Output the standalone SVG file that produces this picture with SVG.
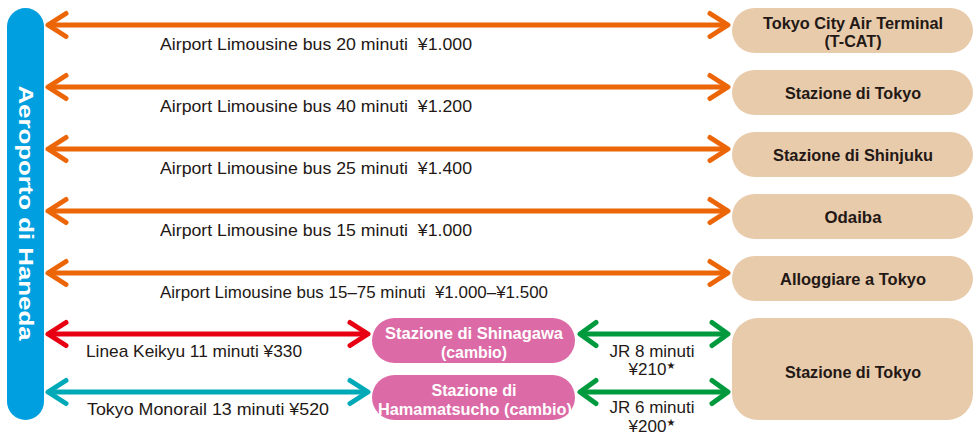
<svg xmlns="http://www.w3.org/2000/svg" width="973" height="436" viewBox="0 0 973 436">
<style>
.lbl{font-family:"Liberation Sans",Arial,sans-serif;font-size:17px;fill:#231815}
.bx{font-family:"Liberation Sans Narrow","Liberation Sans",Arial,sans-serif;font-weight:bold;font-size:16.5px;fill:#231815;text-anchor:middle}
.pk{font-family:"Liberation Sans Narrow","Liberation Sans",Arial,sans-serif;font-weight:bold;font-size:16.5px;fill:#ffffff;text-anchor:middle}
.beige{fill:#e8cbab}
.pink{fill:#dc6aa6}
.ln{fill:none;stroke-width:5}
.star{font-family:"DejaVu Sans",sans-serif;font-size:10px}
</style>
<defs>
<marker id="mo" markerUnits="userSpaceOnUse" viewBox="-24 -16 30 32" markerWidth="30" markerHeight="32" refX="-2" refY="0" orient="auto-start-reverse">
<path d="M-18,-11.5 L0,0 L-18,11.5" fill="none" stroke="#ec6608" stroke-width="5" stroke-linecap="round" stroke-linejoin="round"/>
</marker>
<marker id="mr" markerUnits="userSpaceOnUse" viewBox="-24 -16 30 32" markerWidth="30" markerHeight="32" refX="-2" refY="0" orient="auto-start-reverse">
<path d="M-18,-11.5 L0,0 L-18,11.5" fill="none" stroke="#e60012" stroke-width="5" stroke-linecap="round" stroke-linejoin="round"/>
</marker>
<marker id="mt" markerUnits="userSpaceOnUse" viewBox="-24 -16 30 32" markerWidth="30" markerHeight="32" refX="-2" refY="0" orient="auto-start-reverse">
<path d="M-18,-11.5 L0,0 L-18,11.5" fill="none" stroke="#00a9b7" stroke-width="5" stroke-linecap="round" stroke-linejoin="round"/>
</marker>
<marker id="mg" markerUnits="userSpaceOnUse" viewBox="-24 -16 30 32" markerWidth="30" markerHeight="32" refX="-2" refY="0" orient="auto-start-reverse">
<path d="M-16,-11.5 L0,0 L-16,11.5" fill="none" stroke="#009a3e" stroke-width="5" stroke-linecap="round" stroke-linejoin="round"/>
</marker>
</defs>

<g id="haneda">
<rect x="7" y="8" width="37" height="412" rx="18.5" fill="#009fdf"/>
<text transform="translate(18.5,213) rotate(90)" font-family="'Liberation Sans',Arial,sans-serif" font-weight="bold" font-size="21" fill="#ffffff" text-anchor="middle" textLength="255" lengthAdjust="spacingAndGlyphs">Aeroporto di Haneda</text>
</g>

<g id="connectors">
<line class="ln" x1="50" y1="25" x2="726" y2="25" stroke="#ec6608" marker-start="url(#mo)" marker-end="url(#mo)"/>
<line class="ln" x1="50" y1="87" x2="726" y2="87" stroke="#ec6608" marker-start="url(#mo)" marker-end="url(#mo)"/>
<line class="ln" x1="50" y1="149" x2="726" y2="149" stroke="#ec6608" marker-start="url(#mo)" marker-end="url(#mo)"/>
<line class="ln" x1="50" y1="211" x2="726" y2="211" stroke="#ec6608" marker-start="url(#mo)" marker-end="url(#mo)"/>
<line class="ln" x1="50" y1="273" x2="726" y2="273" stroke="#ec6608" marker-start="url(#mo)" marker-end="url(#mo)"/>
<line class="ln" x1="50" y1="334" x2="366" y2="334" stroke="#e60012" marker-start="url(#mr)" marker-end="url(#mr)"/>
<line class="ln" x1="50" y1="392" x2="366" y2="392" stroke="#00a9b7" marker-start="url(#mt)" marker-end="url(#mt)"/>
<line class="ln" x1="582" y1="334" x2="726" y2="334" stroke="#009a3e" marker-start="url(#mg)" marker-end="url(#mg)"/>
<line class="ln" x1="582" y1="392" x2="726" y2="392" stroke="#009a3e" marker-start="url(#mg)" marker-end="url(#mg)"/>
<text class="lbl" x="160" y="50" xml:space="preserve" textLength="312" lengthAdjust="spacingAndGlyphs">Airport Limousine bus 20 minuti  ¥1.000</text>
<text class="lbl" x="160" y="112" xml:space="preserve" textLength="312" lengthAdjust="spacingAndGlyphs">Airport Limousine bus 40 minuti  ¥1.200</text>
<text class="lbl" x="160" y="174" xml:space="preserve" textLength="312" lengthAdjust="spacingAndGlyphs">Airport Limousine bus 25 minuti  ¥1.400</text>
<text class="lbl" x="160" y="236" xml:space="preserve" textLength="312" lengthAdjust="spacingAndGlyphs">Airport Limousine bus 15 minuti  ¥1.000</text>
<text class="lbl" x="160" y="298" xml:space="preserve" textLength="388" lengthAdjust="spacingAndGlyphs">Airport Limousine bus 15–75 minuti  ¥1.000–¥1.500</text>
<text class="lbl" x="86" y="357" textLength="216" lengthAdjust="spacingAndGlyphs">Linea Keikyu 11 minuti ¥330</text>
<text class="lbl" x="87" y="415" textLength="242" lengthAdjust="spacingAndGlyphs">Tokyo Monorail 13 minuti ¥520</text>
<text class="lbl" x="652" y="357" text-anchor="middle">JR 8 minuti</text>
<text class="lbl" x="652" y="375" text-anchor="middle">¥210<tspan class="star" dy="-6">★</tspan></text>
<text class="lbl" x="652" y="413" text-anchor="middle">JR 6 minuti</text>
<text class="lbl" x="652" y="432" text-anchor="middle">¥200<tspan class="star" dy="-6">★</tspan></text>
</g>

<g id="tcat">
<rect class="beige" x="732" y="8" width="241" height="45" rx="22.5"/>
<text class="bx" x="853" y="29" textLength="180" lengthAdjust="spacingAndGlyphs">Tokyo City Air Terminal</text>
<text class="bx" x="853" y="47" textLength="57" lengthAdjust="spacingAndGlyphs">(T-CAT)</text>
</g>
<g id="tokyo1">
<rect class="beige" x="732" y="70" width="241" height="45" rx="22.5"/>
<text class="bx" x="853" y="99" textLength="136" lengthAdjust="spacingAndGlyphs">Stazione di Tokyo</text>
</g>
<g id="shinjuku">
<rect class="beige" x="732" y="132" width="241" height="45" rx="22.5"/>
<text class="bx" x="853" y="161" textLength="160" lengthAdjust="spacingAndGlyphs">Stazione di Shinjuku</text>
</g>
<g id="odaiba">
<rect class="beige" x="732" y="194" width="241" height="45" rx="22.5"/>
<text class="bx" x="853" y="223" textLength="57" lengthAdjust="spacingAndGlyphs">Odaiba</text>
</g>
<g id="alloggiare">
<rect class="beige" x="732" y="256" width="241" height="45" rx="22.5"/>
<text class="bx" x="853" y="285" textLength="146" lengthAdjust="spacingAndGlyphs">Alloggiare a Tokyo</text>
</g>
<g id="tokyo2">
<rect class="beige" x="732" y="318" width="241" height="102" rx="26"/>
<text class="bx" x="853" y="378" textLength="136" lengthAdjust="spacingAndGlyphs">Stazione di Tokyo</text>
</g>
<g id="shinagawa">
<rect class="pink" x="372" y="318" width="203" height="45" rx="22.5"/>
<text class="pk" x="474" y="339" textLength="178" lengthAdjust="spacingAndGlyphs">Stazione di Shinagawa</text>
<text class="pk" x="474" y="358" textLength="66" lengthAdjust="spacingAndGlyphs">(cambio)</text>
</g>
<g id="hamamatsucho">
<rect class="pink" x="372" y="375" width="203" height="45" rx="22.5"/>
<text class="pk" x="474" y="396" textLength="85" lengthAdjust="spacingAndGlyphs">Stazione di</text>
<text class="pk" x="475" y="415" textLength="194" lengthAdjust="spacingAndGlyphs">Hamamatsucho (cambio)</text>
</g>
</svg>
